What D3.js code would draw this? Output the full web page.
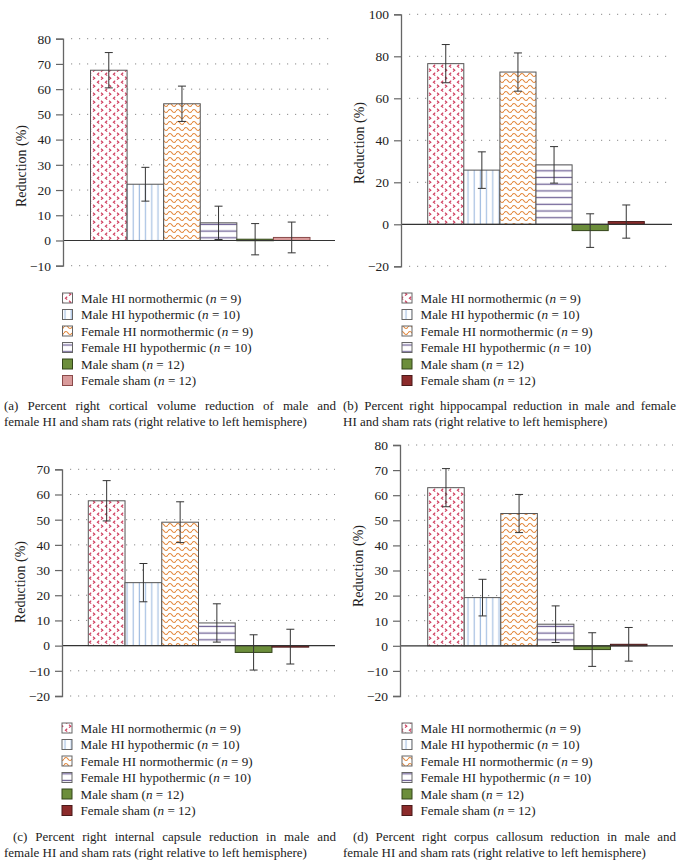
<!DOCTYPE html>
<html>
<head>
<meta charset="utf-8">
<script src="https://cdn.jsdelivr.net/npm/d3@7"></script>
<style>
  body { margin: 0; background: #fff; }
  svg { display: block; }
  text { font-family: "Liberation Serif", "DejaVu Serif", serif; fill: #222; }
</style>
</head>
<body>
<svg id="chart" width="683" height="865"></svg>
<script>
// ---------------- DATA ----------------
const groups = ["Male HI normothermic", "Male HI hypothermic", "Female HI normothermic",
                "Female HI hypothermic", "Male sham", "Female sham"];
const groupN = [9, 10, 9, 10, 12, 12];

const corticalValues   = [67.5, 22.3, 54.2, 7.0, 0.5, 1.2];
const corticalErrors   = [7.0, 6.7, 7.0, 6.6, 6.2, 6.1];
const corticalTicks    = [-10, 0, 10, 20, 30, 40, 50, 60, 70, 80];

const hippocampValues  = [76.5, 25.8, 72.5, 28.3, -3.0, 1.3];
const hippocampErrors  = [9.1, 8.7, 9.1, 8.7, 8.0, 7.9];
const hippocampTicks   = [-20, 0, 20, 40, 60, 80, 100];

const capsuleValues    = [57.5, 25.0, 49.0, 9.0, -2.7, -0.4];
const capsuleErrors    = [8.0, 7.6, 8.1, 7.6, 7.0, 6.9];
const capsuleTicks     = [-20, -10, 0, 10, 20, 30, 40, 50, 60, 70];

const callosumValues   = [63.0, 19.2, 52.7, 8.6, -1.5, 0.6];
const callosumErrors   = [7.6, 7.3, 7.6, 7.3, 6.7, 6.7];
const callosumTicks    = [-20, -10, 0, 10, 20, 30, 40, 50, 60, 70, 80];

const yAxisTitle = "Reduction (%)";
const captions = [
  ["(a) Percent right cortical volume reduction of male and", "female HI and sham rats (right relative to left hemisphere)"],
  ["(b) Percent right hippocampal reduction in male and female", "HI and sham rats (right relative to left hemisphere)"],
  ["(c) Percent right internal capsule reduction in male and", "female HI and sham rats (right relative to left hemisphere)"],
  ["(d) Percent right corpus callosum reduction in male and", "female HI and sham rats (right relative to left hemisphere)"]
];

// ---------------- LAYOUT / STYLE ----------------
const panels = [
  { values: corticalValues, errors: corticalErrors, ticks: corticalTicks,
    ax: 63, right: 335, yTop: 38.7, yBot: 265.7, barL: 90.5, barR: 310,
    labelY: 166, legX: 62.5, legY: 298, capL: 4, cap2L: 4, capR: 336, capY: 410, femaleSham: "#d99b9b", femaleShamStroke: "#8a4a4a" },
  { values: hippocampValues, errors: hippocampErrors, ticks: hippocampTicks,
    ax: 401, right: 672, yTop: 14.3, yBot: 266.3, barL: 427.7, barR: 644.3,
    labelY: 143, legX: 402, legY: 298, capL: 343, cap2L: 343, capR: 676, capY: 410, femaleSham: "#8c2b2b", femaleShamStroke: "#4a1a1a" },
  { values: capsuleValues, errors: capsuleErrors, ticks: capsuleTicks,
    ax: 62, right: 335, yTop: 469.3, yBot: 696, barL: 88.3, barR: 308.7,
    labelY: 582, legX: 62, legY: 728, capL: 13, cap2L: 4, capR: 336, capY: 841, femaleSham: "#8c2b2b", femaleShamStroke: "#4a1a1a" },
  { values: callosumValues, errors: callosumErrors, ticks: callosumTicks,
    ax: 400, right: 673, yTop: 445, yBot: 696, barL: 427.7, barR: 647,
    labelY: 566, legX: 402, legY: 728, capL: 353, cap2L: 343, capR: 676, capY: 841, femaleSham: "#8c2b2b", femaleShamStroke: "#4a1a1a" }
];

const svg = d3.select("#chart");
const defs = svg.append("defs");

// Pattern: red chevrons
const p0 = defs.append("pattern").attr("id", "pat0").attr("patternUnits", "userSpaceOnUse")
  .attr("width", 8).attr("height", 8);
p0.append("rect").attr("width", 8).attr("height", 8).attr("fill", "#fff");
p0.append("path").attr("d", "M3.2,0.8 L1.4,2.2 L3.2,3.6").attr("fill", "none").attr("stroke", "#cf3d5e").attr("stroke-width", 1.1);
p0.append("path").attr("d", "M5,4.8 L6.8,6.2 L5,7.6").attr("fill", "none").attr("stroke", "#cf3d5e").attr("stroke-width", 1.1);

// Pattern: vertical blue lines
const p1 = defs.append("pattern").attr("id", "pat1").attr("patternUnits", "userSpaceOnUse")
  .attr("width", 6.2).attr("height", 6);
p1.append("rect").attr("width", 6.2).attr("height", 6).attr("fill", "#fff");
p1.append("line").attr("x1", 3).attr("x2", 3).attr("y1", 0).attr("y2", 6).attr("stroke", "#a6c0e2").attr("stroke-width", 1.2);

// Pattern: orange waves
const p2 = defs.append("pattern").attr("id", "pat2").attr("patternUnits", "userSpaceOnUse")
  .attr("width", 8).attr("height", 6);
p2.append("rect").attr("width", 8).attr("height", 6).attr("fill", "#fff");
p2.append("path").attr("d", "M0,3 Q2,0 4,3 T8,3").attr("fill", "none").attr("stroke", "#e3883c").attr("stroke-width", 1.2);

// Pattern: horizontal purple lines
const p3 = defs.append("pattern").attr("id", "pat3").attr("patternUnits", "userSpaceOnUse")
  .attr("width", 6).attr("height", 6.7);
p3.append("rect").attr("width", 6).attr("height", 6.7).attr("fill", "#fff");
p3.append("line").attr("x1", 0).attr("x2", 6).attr("y1", 3.3).attr("y2", 3.3).attr("stroke", "#6f6296").attr("stroke-width", 1.3);

function fillFor(i, p) {
  if (i < 4) return `url(#pat${i})`;
  if (i === 4) return "#6c8e3b";
  return p.femaleSham;
}
function strokeFor(i, p) {
  if (i === 4) return "#33451a";
  if (i === 5) return p.femaleShamStroke;
  return "#555";
}

panels.forEach((p, pi) => {
  const g = svg.append("g");
  const ext = d3.extent(p.ticks);
  const y = d3.scaleLinear().domain(ext).range([p.yBot, p.yTop]);
  const x = d3.scaleBand().domain(d3.range(groups.length)).range([p.barL, p.barR]).padding(0);

  // grid (dotted), except 0
  g.selectAll(".grid").data(p.ticks.filter(t => t !== 0)).join("line")
    .attr("x1", p.ax + 8).attr("x2", p.right)
    .attr("y1", d => y(d)).attr("y2", d => y(d))
    .attr("stroke", "#8a8a8a").attr("stroke-width", 1)
    .attr("stroke-dasharray", "1.2,6.8");

  // bars
  g.selectAll(".bar").data(p.values).join("rect")
    .attr("x", (d, i) => x(i))
    .attr("width", x.bandwidth())
    .attr("y", d => Math.min(y(d), y(0)))
    .attr("height", d => Math.max(Math.abs(y(d) - y(0)), 1.5))
    .attr("fill", (d, i) => fillFor(i, p))
    .attr("stroke", (d, i) => strokeFor(i, p))
    .attr("stroke-width", 1);

  // zero line
  g.append("line").attr("x1", p.ax).attr("x2", p.right)
    .attr("y1", y(0)).attr("y2", y(0)).attr("stroke", "#333").attr("stroke-width", 1.2);

  // error bars
  const eb = g.selectAll(".err").data(p.values).join("g");
  eb.append("line")
    .attr("x1", (d, i) => x(i) + x.bandwidth() / 2).attr("x2", (d, i) => x(i) + x.bandwidth() / 2)
    .attr("y1", (d, i) => y(d - p.errors[i])).attr("y2", (d, i) => y(d + p.errors[i]))
    .attr("stroke", "#333").attr("stroke-width", 1);
  [1, -1].forEach(s => {
    eb.append("line")
      .attr("x1", (d, i) => x(i) + x.bandwidth() / 2 - 4).attr("x2", (d, i) => x(i) + x.bandwidth() / 2 + 4)
      .attr("y1", (d, i) => y(d + s * p.errors[i])).attr("y2", (d, i) => y(d + s * p.errors[i]))
      .attr("stroke", "#333").attr("stroke-width", 1);
  });

  // y axis
  const axis = d3.axisLeft(y).tickValues(p.ticks).tickSize(7).tickPadding(5)
    .tickFormat(d => d < 0 ? "\u2212" + Math.abs(d) : d);
  const ag = g.append("g").attr("transform", `translate(${p.ax},0)`).call(axis);
  ag.select(".domain").attr("stroke", "#666").attr("stroke-width", 1.3);
  ag.selectAll(".tick line").attr("stroke", "#666").attr("stroke-width", 1.2);
  ag.selectAll(".tick text").attr("font-size", 13.5).attr("fill", "#222")
    .attr("font-family", '"Liberation Serif", serif');

  // y title
  g.append("text")
    .attr("transform", `translate(${p.ax - 37},${p.labelY}) rotate(-90)`)
    .attr("text-anchor", "middle").attr("font-size", 14).text(yAxisTitle);

  // legend
  const lg = g.append("g");
  groups.forEach((name, i) => {
    const cy = p.legY + i * 16.5;
    lg.append("rect").attr("x", p.legX).attr("y", cy - 5).attr("width", 10).attr("height", 10)
      .attr("fill", fillFor(i, p)).attr("stroke", i >= 4 ? strokeFor(i, p) : "#666").attr("stroke-width", 1);
    const t = lg.append("text").attr("x", p.legX + 18.5).attr("y", cy + 4.5).attr("font-size", 13.1);
    t.append("tspan").text(name + " (");
    t.append("tspan").attr("font-style", "italic").text("n");
    t.append("tspan").text(" = " + groupN[i] + ")");
  });

  // caption, first line justified
  const cap = captions[pi];
  const words = cap[0].split(" ");
  const wEls = words.map(w => g.append("text").attr("y", p.capY).attr("font-size", 13).text(w));
  const widths = wEls.map(e => e.node().getComputedTextLength());
  const total = d3.sum(widths);
  const gap = (p.capR - p.capL - total) / (words.length - 1);
  let cx = p.capL;
  wEls.forEach((e, i) => { e.attr("x", cx); cx += widths[i] + gap; });
  g.append("text").attr("x", p.cap2L).attr("y", p.capY + 15.5).attr("font-size", 13).text(cap[1]);
});
</script>
</body>
</html>
